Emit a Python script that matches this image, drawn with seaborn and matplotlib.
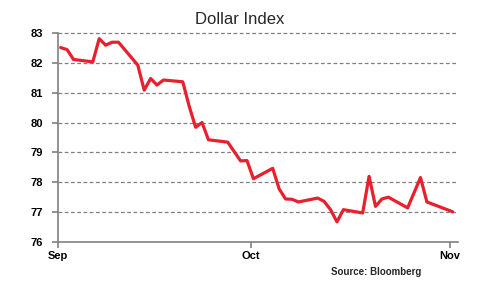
import matplotlib
matplotlib.use("Agg")
import matplotlib.pyplot as plt
import matplotlib.dates as mdates
import seaborn as sns
import pandas as pd

dates = ["2010-09-01", "2010-09-02", "2010-09-03", "2010-09-06", "2010-09-07",
         "2010-09-08", "2010-09-09", "2010-09-10", "2010-09-13", "2010-09-14",
         "2010-09-15", "2010-09-16", "2010-09-17", "2010-09-20", "2010-09-21",
         "2010-09-22", "2010-09-23", "2010-09-24", "2010-09-27", "2010-09-29",
         "2010-09-30", "2010-10-01", "2010-10-04", "2010-10-05", "2010-10-06",
         "2010-10-07", "2010-10-08", "2010-10-11", "2010-10-12", "2010-10-13",
         "2010-10-14", "2010-10-15", "2010-10-18", "2010-10-19", "2010-10-20",
         "2010-10-21", "2010-10-22", "2010-10-25", "2010-10-27", "2010-10-28",
         "2010-11-01"]
values = [82.52, 82.45, 82.12, 82.04, 82.82,
          82.60, 82.70, 82.70, 81.93, 81.09,
          81.48, 81.26, 81.43, 81.37, 80.55,
          79.84, 80.00, 79.42, 79.34, 78.71,
          78.72, 78.11, 78.46, 77.77, 77.43,
          77.42, 77.33, 77.46, 77.35, 77.07,
          76.66, 77.07, 76.96, 78.19, 77.18,
          77.43, 77.49, 77.13, 78.15, 77.33,
          77.00]
x_ticks = ["2010-09-01", "2010-10-01", "2010-11-01"]
x_tick_labels = ["Sep", "Oct", "Nov"]
y_ticks = [76, 77, 78, 79, 80, 81, 82, 83]
title = "Dollar Index"
source = "Source: Bloomberg"

sns.set_style("white")
plt.rcParams["font.family"] = ["Liberation Sans", "DejaVu Sans"]

df = pd.DataFrame({"date": pd.to_datetime(dates) + pd.Timedelta(hours=10), "value": values})

fig = plt.figure(figsize=(4.82, 2.9), dpi=100)
ax = fig.add_axes([58 / 482, 1 - 241.5 / 290, (457.7 - 58) / 482, (241.5 - 33.3) / 290])

sns.lineplot(data=df, x="date", y="value", ax=ax, color="#E8202D", linewidth=2.3, zorder=3)

ax.set_ylim(76, 83)
ax.set_yticks(y_ticks)
ax.set_xlim(pd.Timestamp("2010-09-01"), pd.Timestamp("2010-11-02 05:00"))
ax.set_xticks(pd.to_datetime(x_ticks))
ax.set_xticklabels(x_tick_labels)
ax.set_xlabel("")
ax.set_ylabel("")

for y in y_ticks[1:]:
    ax.axhline(y, color="#808080", linestyle=(0, (3, 2)), linewidth=0.9, zorder=1, clip_on=False)

for s in ["top", "right"]:
    ax.spines[s].set_visible(False)
for s in ["left", "bottom"]:
    ax.spines[s].set_color("#808080")
    ax.spines[s].set_linewidth(1.2)

ax.tick_params(axis="both", direction="out", length=4, width=1.2, color="#808080",
               labelsize=8, labelcolor="black")
ax.tick_params(axis="y", pad=7, left=True)
ax.tick_params(axis="x", pad=3, bottom=True)
for lab in ax.get_xticklabels() + ax.get_yticklabels():
    lab.set_fontweight("bold")

fig.text(240 / 482, 1 - 19 / 290, title, ha="center", va="center", fontsize=12)
fig.text(331 / 482, 1 - 272 / 290, source, ha="left", va="center", fontsize=7, fontweight="bold")

fig.savefig("out.png", dpi=100)
